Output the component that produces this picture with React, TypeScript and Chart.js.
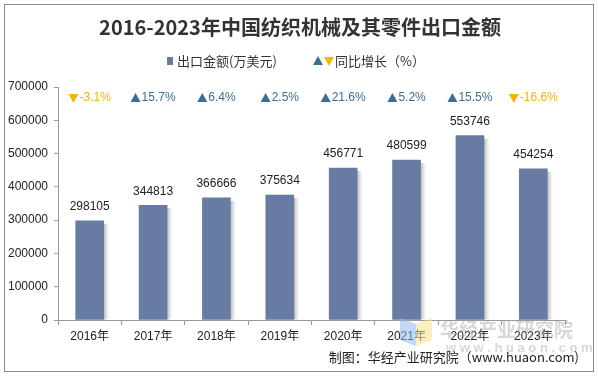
import React, { useEffect, useRef } from "react";
import { Chart, registerables } from "chart.js";

Chart.register(...registerables);

const categories = ["2016年", "2017年", "2018年", "2019年", "2020年", "2021年", "2022年", "2023年"];
const exportValues = [298105, 344813, 366666, 375634, 456771, 480599, 553746, 454254];
const growthRates = [-3.1, 15.7, 6.4, 2.5, 21.6, 5.2, 15.5, -16.6];
const yTicks = [0, 100000, 200000, 300000, 400000, 500000, 600000, 700000];

const BAR = "#687ba2";
const UP = "#3a6f94";
const DOWN = "#f5b400";
const FONT = "'Liberation Sans', Arial, 'Noto Sans CJK SC', sans-serif";
const CJK = "'Noto Sans CJK SC', 'Liberation Sans', sans-serif";

function tri(ctx: CanvasRenderingContext2D, x: number, y: number, up: boolean, color: string, s = 5) {
  ctx.save();
  ctx.fillStyle = color;
  ctx.beginPath();
  if (up) {
    ctx.moveTo(x, y - s);
    ctx.lineTo(x + s, y + s * 0.8);
    ctx.lineTo(x - s, y + s * 0.8);
  } else {
    ctx.moveTo(x - s, y - s * 0.8);
    ctx.lineTo(x + s, y - s * 0.8);
    ctx.lineTo(x, y + s);
  }
  ctx.closePath();
  ctx.fill();
  ctx.restore();
}

const decor = {
  id: "decor",
  beforeDatasetsDraw(chart: any) {
    const ctx = chart.ctx as CanvasRenderingContext2D;
    const meta = chart.getDatasetMeta(0);
    meta.data.forEach((bar: any) => {
      const right = bar.x + bar.width / 2;
      const g = ctx.createLinearGradient(right, 0, right + 6, 0);
      g.addColorStop(0, "rgba(120,120,120,0.55)");
      g.addColorStop(1, "rgba(200,200,200,0)");
      ctx.fillStyle = g;
      ctx.fillRect(right, bar.y + 3, 6, bar.base - bar.y - 3);
    });
  },
  afterDraw(chart: any) {
    const ctx = chart.ctx as CanvasRenderingContext2D;
    const area = chart.chartArea;
    ctx.save();
    // border
    ctx.strokeStyle = "#8c8c8c";
    ctx.lineWidth = 1;
    ctx.strokeRect(4.5, 4.5, 589, 367);
    // title
    ctx.fillStyle = "#333";
    ctx.font = `bold 20px ${CJK}`;
    ctx.textAlign = "center";
    ctx.textBaseline = "middle";
    ctx.fillText("2016-2023年中国纺织机械及其零件出口金额", 300, 27);
    // legend
    ctx.fillStyle = BAR;
    ctx.fillRect(167, 57, 6, 8);
    ctx.fillStyle = "#333";
    ctx.font = `13px ${CJK}`;
    ctx.textAlign = "left";
    ctx.fillText("出口金额(万美元)", 177, 61);
    tri(ctx, 318, 61, true, UP, 5);
    tri(ctx, 329, 61, false, DOWN, 5);
    ctx.fillStyle = "#333";
    ctx.fillText("同比增长（%）", 335, 61);
    // growth labels
    const meta = chart.getDatasetMeta(0);
    ctx.font = `12px ${FONT}`;
    meta.data.forEach((bar: any, i: number) => {
      const v = growthRates[i];
      const up = v >= 0;
      const color = up ? UP : DOWN;
      const txt = v.toFixed(1) + "%";
      const w = ctx.measureText(txt).width;
      const total = w + 11;
      const x0 = bar.x - total / 2;
      tri(ctx, x0 + 5, area.top + 11, up, color, 5);
      ctx.fillStyle = color;
      ctx.textAlign = "left";
      ctx.fillText(txt, x0 + 11, area.top + 11);
    });
    // value labels
    ctx.fillStyle = "#222";
    ctx.textAlign = "center";
    ctx.textBaseline = "bottom";
    meta.data.forEach((bar: any, i: number) => {
      ctx.fillText(String(exportValues[i]), bar.x, bar.y - 8);
    });
    // watermark
    ctx.globalAlpha = 0.55;
    ctx.fillStyle = "#8fb8f0";
    ctx.beginPath();
    ctx.moveTo(400, 318); ctx.lineTo(416, 324); ctx.lineTo(416, 346); ctx.lineTo(400, 340);
    ctx.closePath(); ctx.fill();
    ctx.fillStyle = "#f8e08a";
    ctx.beginPath();
    ctx.moveTo(416, 324); ctx.lineTo(432, 318); ctx.lineTo(432, 340); ctx.lineTo(416, 346);
    ctx.closePath(); ctx.fill();
    ctx.globalAlpha = 0.4;
    ctx.fillStyle = "#9a9a9a";
    ctx.font = `bold 19px ${CJK}`;
    ctx.textAlign = "left";
    ctx.textBaseline = "middle";
    ctx.fillText("华经产业研究院", 440, 330);
    ctx.font = `bold 13px ${FONT}`;
    ctx.fillText("w w w . h u a o n . c o m", 446, 348);
    ctx.globalAlpha = 1;
    // footer
    ctx.fillStyle = "#222";
    ctx.font = `13px ${CJK}`;
    ctx.textAlign = "right";
    ctx.fillText("制图：华经产业研究院（www.huaon.com)", 579, 357);
    ctx.restore();
  },
};

export default function App() {
  const ref = useRef<HTMLCanvasElement | null>(null);
  useEffect(() => {
    if (!ref.current) return;
    const chart = new Chart(ref.current, {
      type: "bar",
      data: {
        labels: categories,
        datasets: [
          {
            label: "出口金额(万美元)",
            data: exportValues,
            backgroundColor: BAR,
            barThickness: 28,
          },
        ],
      },
      options: {
        responsive: false,
        animation: false,
        layout: { padding: { top: 87, right: 33, left: 0, bottom: 0 } },
        plugins: { legend: { display: false }, title: { display: false }, tooltip: { enabled: false } },
        scales: {
          x: {
            grid: { display: true, drawOnChartArea: false, drawTicks: true, tickLength: 5, color: "#999", offset: true },
            border: { display: true, color: "#999" },
            ticks: { color: "#222", font: { size: 12, family: FONT }, padding: 4 },
            afterFit: (s: any) => { s.height = 56; },
          },
          y: {
            min: 0,
            max: 700000,
            afterBuildTicks: (s: any) => { s.ticks = yTicks.map((v) => ({ value: v })); },
            grid: { display: true, drawOnChartArea: false, drawTicks: true, tickLength: 4, color: "#999" },
            border: { display: true, color: "#999" },
            ticks: { color: "#222", font: { size: 12, family: FONT }, padding: 6, callback: (v: any) => String(v) },
            afterFit: (s: any) => { s.width = 58; },
          },
        },
      },
      plugins: [decor],
    });
    return () => chart.destroy();
  }, []);
  return (
    <div style={{ position: "fixed", left: 0, top: 0, width: 598, height: 376, background: "#fff" }}>
      <canvas ref={ref} width={598} height={376} style={{ display: "block" }} />
    </div>
  );
}
